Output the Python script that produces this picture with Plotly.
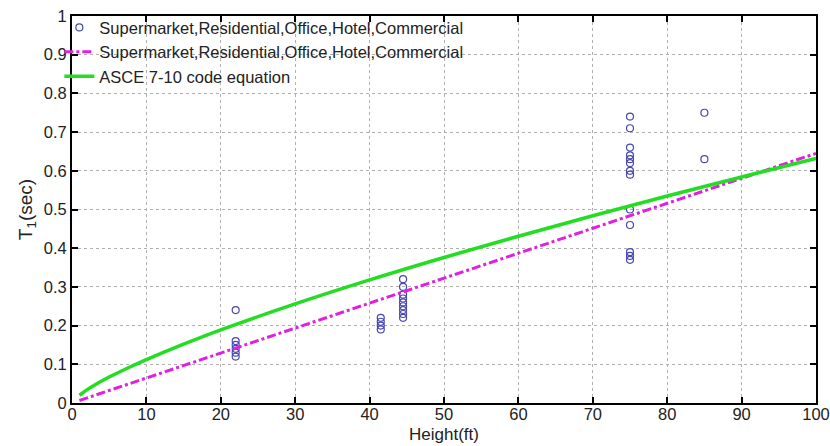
import plotly.graph_objects as go

# Data
x22 = [22, 22, 22, 22, 22, 22]
y22 = [0.24, 0.16, 0.15, 0.14, 0.13, 0.12]
x41 = [41.5, 41.5, 41.5, 41.5]
y41 = [0.22, 0.21, 0.20, 0.19]
x44 = [44.5] * 9
y44 = [0.32, 0.30, 0.28, 0.27, 0.26, 0.25, 0.24, 0.23, 0.22]
x75 = [75] * 13
y75 = [0.74, 0.71, 0.66, 0.64, 0.63, 0.62, 0.60, 0.59, 0.50, 0.46, 0.39, 0.38, 0.37]
x85 = [85, 85]
y85 = [0.75, 0.63]

scatter_x = x22 + x41 + x44 + x75 + x85
scatter_y = y22 + y41 + y44 + y75 + y85

fit_x = [1, 100]
fit_y = [0.0065, 0.645]

code_x = [1, 2, 3, 5, 7, 10, 15, 20, 30, 40, 50, 60, 70, 80, 90, 100]
code_y = [0.020, 0.034, 0.046, 0.067, 0.086, 0.112, 0.152, 0.189, 0.256, 0.318,
          0.376, 0.431, 0.484, 0.535, 0.584, 0.632]

series_name = "Supermarket,Residential,Office,Hotel,Commercial"
x_title = "Height(ft)"

fig = go.Figure()
fig.add_trace(go.Scatter(x=scatter_x, y=scatter_y, mode="markers", name=series_name,
                         marker=dict(symbol="circle-open", size=7, color="#4848b0",
                                     line=dict(width=1.2, color="#4848b0"))))
fig.add_trace(go.Scatter(x=fit_x, y=fit_y, mode="lines", name=series_name,
                         line=dict(color="#e020e0", width=3, dash="dashdot")))
fig.add_trace(go.Scatter(x=code_x, y=code_y, mode="lines", name="ASCE 7-10 code equation",
                         line=dict(color="#22dd22", width=3.5, shape="spline")))

axis_common = dict(showline=True, linecolor="black", linewidth=2, mirror="ticks",
                   ticks="inside", ticklen=6, tickcolor="black", tickwidth=2,
                   showgrid=True, gridcolor="#b0b0b0", griddash="dot", gridwidth=1,
                   zeroline=False, automargin=False, ticklabeloverflow="allow",
                   tickfont=dict(family="Liberation Sans, Arial", size=16.5, color="#222"))

fig.update_layout(
    width=830, height=446,
    margin=dict(l=72, r=14, t=10, b=43),
    paper_bgcolor="white", plot_bgcolor="white",
    font=dict(family="Liberation Sans, Arial", color="#222"),
    xaxis=dict(range=[0, 100], dtick=10, ticklabelstandoff=-5, **axis_common),
    yaxis=dict(range=[0, 1], dtick=0.1, title=dict(text="T<sub>1</sub>(sec)", font=dict(size=19), standoff=6),
               **axis_common),
    legend=dict(x=-0.017, y=1.015, xanchor="left", yanchor="top", bgcolor="rgba(255,255,255,0)",
                font=dict(size=16.5, color="#222"), tracegroupgap=0, itemwidth=30),
    showlegend=True,
)
fig.add_annotation(text=x_title, xref="paper", yref="paper", x=0.5, y=-0.11,
                   xanchor="center", yanchor="bottom", showarrow=False,
                   font=dict(size=17, color="#222"))

fig.write_html("out.html")
